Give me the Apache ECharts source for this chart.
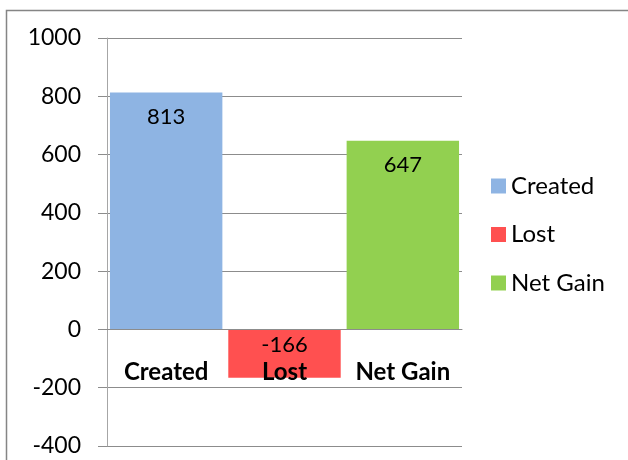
<!DOCTYPE html>
<html>
<head>
<meta charset="utf-8">
<script src="https://cdn.jsdelivr.net/npm/echarts@6/dist/echarts.min.js"></script>
<style>html,body{margin:0;padding:0;background:#fff;}#c{width:628px;height:460px;}</style>
</head>
<body>
<div id="c"></div>
<script>
var categories = ['Created', 'Lost', 'Net Gain'];
var seriesNames = ['Created', 'Lost', 'Net Gain'];
var values = [813, -166, 647];
var colors = ['#8EB4E3', '#FF5050', '#92D050'];
var yMin = -400, yMax = 1000, yInterval = 200;

var FONT = 'Lato';
var chart = echarts.init(document.getElementById('c'));
var series = seriesNames.map(function (name, i) {
  var d = categories.map(function (c, j) { return j === i ? values[i] : '-'; });
  return {
    name: name,
    type: 'bar',
    stack: 'all',
    barWidth: '95%',
    data: d,
    itemStyle: { color: colors[i] },
    label: {
      show: true,
      position: 'insideTop',
      distance: values[i] < 0 ? 4 : 13,
      color: '#000',
      fontFamily: FONT,
      fontSize: 22
    }
  };
});
// category labels drawn at the zero line
series.push({
  name: 'catLabels',
  type: 'scatter',
  data: categories.map(function () { return 0; }),
  symbolSize: 0,
  silent: true,
  z: 10,
  itemStyle: { opacity: 1 },
  label: {
    show: true,
    opacity: 1,
    position: 'bottom',
    distance: 31,
    formatter: function (p) { return categories[p.dataIndex]; },
    fontFamily: FONT, fontSize: 24, fontWeight: 'bold', color: '#000'
  }
});
chart.setOption({
  animation: false,
  graphic: [{
    type: 'rect', left: 4, top: 8,
    shape: { width: 700, height: 500 },
    style: { fill: 'none', stroke: '#858585', lineWidth: 1.5 },
    z: -1
  }],
  grid: { left: 107, right: 166, top: 38, bottom: 14, containLabel: false, outerBoundsMode: 'none' },
  legend: {
    orient: 'vertical',
    left: 486, top: 169,
    padding: 5,
    itemWidth: 15, itemHeight: 15, itemGap: 24.5,
    icon: 'rect',
    textStyle: { fontFamily: FONT, fontSize: 24, color: '#000' },
    data: seriesNames
  },
  xAxis: {
    type: 'category',
    data: categories,
    axisLine: { onZero: true, lineStyle: { color: '#8c8c8c', width: 1 } },
    axisTick: { show: false },
    axisLabel: { show: false },
    z: 10
  },
  yAxis: {
    type: 'value',
    min: yMin, max: yMax, interval: yInterval,
    axisLine: { show: true, lineStyle: { color: '#a6a6a6', width: 1 } },
    axisTick: { show: true, length: 9, lineStyle: { color: '#8c8c8c' } },
    axisLabel: { margin: 26, fontFamily: FONT, fontSize: 23, color: '#000', formatter: function (v) { return String(v); } },
    splitLine: { show: true, lineStyle: { color: '#8c8c8c', width: 1 } }
  },
  series: series
});
</script>
</body>
</html>
